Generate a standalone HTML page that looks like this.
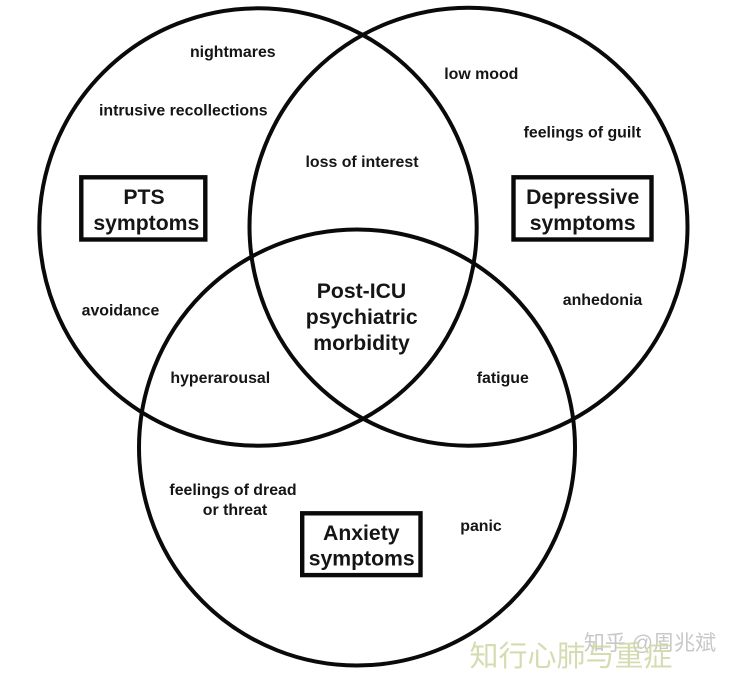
<!DOCTYPE html>
<html><head><meta charset="utf-8"><style>
html,body{margin:0;padding:0;background:#fff}
svg{display:block}
text{font-family:"Liberation Sans",sans-serif;font-weight:bold;fill:#151515;text-anchor:middle}
.s{font-size:15.9px}
.l{font-size:21.2px}
</style></head><body>
<svg width="736" height="673" viewBox="0 0 736 673" xmlns="http://www.w3.org/2000/svg">
<rect width="736" height="673" fill="#fff"/>
<g fill="none" stroke="#0a0a0a" stroke-width="4">
<circle cx="258" cy="227" r="218.7"/>
<circle cx="468.5" cy="226.7" r="219"/>
<circle cx="357" cy="447.5" r="218"/>
</g>
<g fill="#fff" stroke="#0a0a0a" stroke-width="4.4">
<rect x="81.3" y="177.3" width="124" height="62.2"/>
<rect x="513.5" y="177.3" width="138" height="62.2"/>
<rect x="302.2" y="513.3" width="118.3" height="61.8"/>
</g>
<text class="s" x="232.8" y="57">nightmares</text>
<text class="s" x="183.3" y="115.5">intrusive recollections</text>
<text class="s" x="362" y="167">loss of interest</text>
<text class="s" x="481.3" y="79">low mood</text>
<text class="s" x="582.3" y="137.5">feelings of guilt</text>
<text class="s" x="602.5" y="305">anhedonia</text>
<text class="s" x="120.5" y="315.5">avoidance</text>
<text class="s" x="220.3" y="383">hyperarousal</text>
<text class="s" x="502.8" y="383">fatigue</text>
<text class="s" x="233" y="495">feelings of dread</text>
<text class="s" x="235" y="515">or threat</text>
<text class="s" x="481" y="531">panic</text>
<text class="l" x="144" y="204">PTS</text>
<text class="l" x="146.3" y="230">symptoms</text>
<text class="l" x="582.7" y="204">Depressive</text>
<text class="l" x="582.7" y="230">symptoms</text>
<text class="l" x="361.3" y="540">Anxiety</text>
<text class="l" x="361.7" y="565.5">symptoms</text>
<text class="l" x="361.5" y="298">Post-ICU</text>
<text class="l" x="361.7" y="324">psychiatric</text>
<text class="l" x="361.5" y="350">morbidity</text>
<text x="650" y="650" style="font-family:'Liberation Sans','Noto Sans CJK SC',sans-serif;font-weight:normal;font-size:21px;fill:#c8c8c8">知乎 @周兆斌</text>
<text x="571" y="666" style="font-family:'Liberation Sans','Noto Sans CJK SC',sans-serif;font-weight:normal;font-size:29px;fill:#cfd8a8;fill-opacity:.9">知行心肺与重症</text>
</svg>
</body></html>
